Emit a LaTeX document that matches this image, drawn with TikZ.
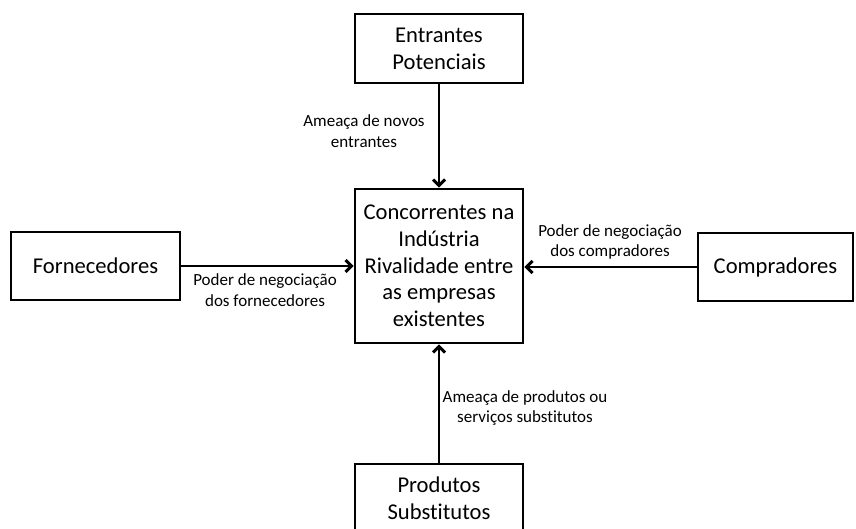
\documentclass[tikz,border=0pt]{standalone}
\usepackage{fontspec}
\setmainfont{Carlito}[Ligatures=NoCommon]
\usetikzlibrary{arrows.meta}
\begin{document}
\begin{tikzpicture}[x=1pt,y=-1pt,
  force/.style={draw=black,line width=2.9pt,fill=white,align=center,inner sep=0pt,
    font=\fontsize{22.6}{26.7}\selectfont},
  arr/.style={line width=2.9pt,-{Straight Barb[length=6pt,width=12pt,line width=2.9pt]}},
  lbl/.style={align=center,inner sep=0pt,font=\fontsize{17}{20.5}\selectfont}]
\clip (0,0) rectangle (856,529);
\fill[white] (0,0) rectangle (856,529);

% the five forces
\node[force,minimum width=168pt,minimum height=69pt] (entr) at (439,48.5) {Entrantes\\Potenciais};
\node[force,minimum width=168pt,minimum height=154pt] (conc) at (439,266)
  {Concorrentes na\\Indústria\\Rivalidade entre\\as empresas\\existentes};
\node[force,minimum width=169pt,minimum height=68pt] (forn) at (95.5,266) {Fornecedores};
\node[force,minimum width=155pt,minimum height=68pt] (comp) at (775.5,267) {Compradores};
\node[force,minimum width=168pt,minimum height=69pt] (prod) at (439,498.5) {Produtos\\Substitutos};

% pressures on the industry
\draw[arr] (entr.south) -- (conc.north);
\draw[arr] (forn.east) -- (conc.west);
\draw[arr] (comp.west) -- (comp.west -| conc.east);
\draw[arr] (prod.north) -- (conc.south);

% labels of the pressures
\node[lbl] (lentr) at (364,131) {Ameaça de novos\\entrantes};
\node[lbl] (lforn) at (265,290) {Poder de negociação\\dos fornecedores};
\node[lbl] (lcomp) at (610,242) {Poder de negociação\\dos compradores};
\node[lbl] (lprod) at (525,408) {Ameaça de produtos ou\\serviços substitutos};
\end{tikzpicture}
\end{document}
